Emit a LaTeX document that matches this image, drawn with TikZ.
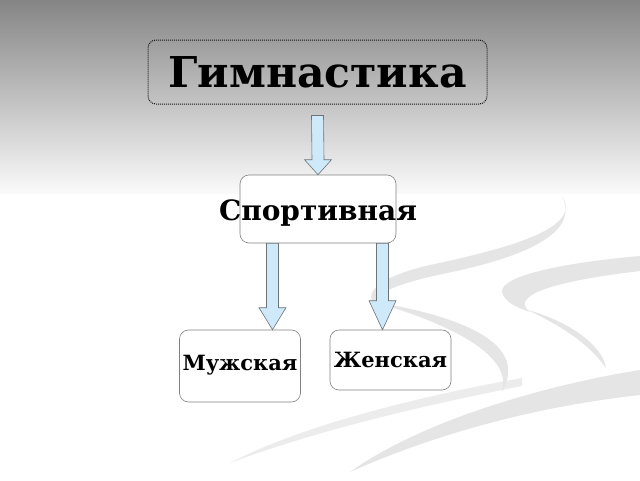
\documentclass[tikz,border=0pt]{standalone}
\usepackage{fontspec}
\setmainfont{DejaVu Serif}
\usetikzlibrary{calc}

\definecolor{bgtop}{HTML}{858585}
\definecolor{bgmid}{HTML}{B4B4B4}
\definecolor{bgend}{HTML}{FAFAFA}
\definecolor{arrowfill}{HTML}{CDE9FA}
\definecolor{arrowline}{HTML}{6E7378}
\definecolor{swoosh}{HTML}{E5E5E5}

\tikzset{
	topbox/.style={draw=black!90, densely dotted, line width=1pt, rounded corners=8pt,
		minimum width=339pt, minimum height=64pt, inner sep=0pt,
		font=\fontsize{42.5}{50}\selectfont\bfseries},
	sportbox/.style={draw=black!50, fill=white, line width=0.6pt, rounded corners=9pt,
		minimum width=156pt, minimum height=68pt, inner sep=0pt,
		font=\fontsize{28}{34}\selectfont\bfseries},
	kindbox/.style={draw=black!50, fill=white, line width=0.6pt, rounded corners=9pt,
		minimum width=121pt, inner sep=0pt,
		font=\fontsize{21}{25}\selectfont\bfseries},
	fatarrow/.style={draw=arrowline, fill=arrowfill, line width=0.6pt, line join=miter},
	swooshfill/.style={fill=swoosh, draw=none},
}

% block arrow: from, tip, head length
\newcommand{\fatarrow}[3]{%
	\path[fatarrow] ($(#1)+(-6,0)$) -- ($(#2)+(-6,-#3)$) -- ($(#2)+(-13.5,-#3)$) -- (#2)
		-- ($(#2)+(13.5,-#3)$) -- ($(#2)+(6,-#3)$) -- ($(#1)+(6,0)$) -- cycle;}
% text with its baseline set below the centre of the box
\newcommand{\lowtext}[2]{\raisebox{-#1}[0pt][0pt]{\makebox[0pt]{#2}}}

\begin{document}
\begin{tikzpicture}[x=1pt, y=-1pt]
	\useasboundingbox (0,0) rectangle (640,480);
	% background
	\fill[white] (0,0) rectangle (640,480);
	\shade[top color=bgtop, middle color=bgmid, bottom color=bgend] (0,0) rectangle (640,193);

	% swooshes
	\path[swooshfill] (562,196) .. controls (582,226) and (520,246) .. (430,265)
		.. controls (382,276) and (362,292) .. (375,305)
		.. controls (374,292) and (402,282) .. (452,272)
		.. controls (540,253) and (578,228) .. (562,196) -- cycle;
	\path[swooshfill] (375,302) .. controls (470,318) and (528,346) .. (502,392)
		.. controls (512,358) and (462,328) .. (375,302) -- cycle;
	\path[swooshfill] (640,256) .. controls (570,262) and (500,275) .. (502,292)
		.. controls (504,302) and (518,308) .. (530,312)
		.. controls (514,300) and (530,284) .. (640,271) -- cycle;
	\path[swooshfill] (528,310) .. controls (570,322) and (602,345) .. (606,368)
		.. controls (590,345) and (565,328) .. (528,310) -- cycle;
	\path[swooshfill] (640,370) .. controls (540,386) and (420,422) .. (350,472)
		.. controls (440,432) and (540,406) .. (640,395) -- cycle;
	\path[swooshfill, opacity=0.7] (522,378) .. controls (420,396) and (300,426) .. (230,463)
		.. controls (312,432) and (420,406) .. (522,386) -- cycle;

	% boxes
	\node[topbox] at (317.5,72) (gym) {Гимнастика};
	\node[sportbox] at (318,209) (sport) {\lowtext{11pt}{Спортивная}};
	\node[kindbox, minimum height=72pt] at (240,366) (male) {\lowtext{4pt}{Мужская}};
	\node[kindbox, minimum height=60pt] at (390.5,360) (female) {\lowtext{7pt}{Женская}};

	% arrows
	\coordinate (gymout) at ($(gym.south)+(0,11)$);
	\coordinate (malein) at ($(male.north)+(32.5,0)$);
	\coordinate (femalein) at ($(female.north)+(-8,0)$);
	\coordinate (maleout) at (malein |- sport.south);
	\coordinate (femaleout) at (femalein |- sport.south);
	\fatarrow{gymout}{sport.north}{15}
	\fatarrow{maleout}{malein}{22}
	\fatarrow{femaleout}{femalein}{29}
\end{tikzpicture}
\end{document}
